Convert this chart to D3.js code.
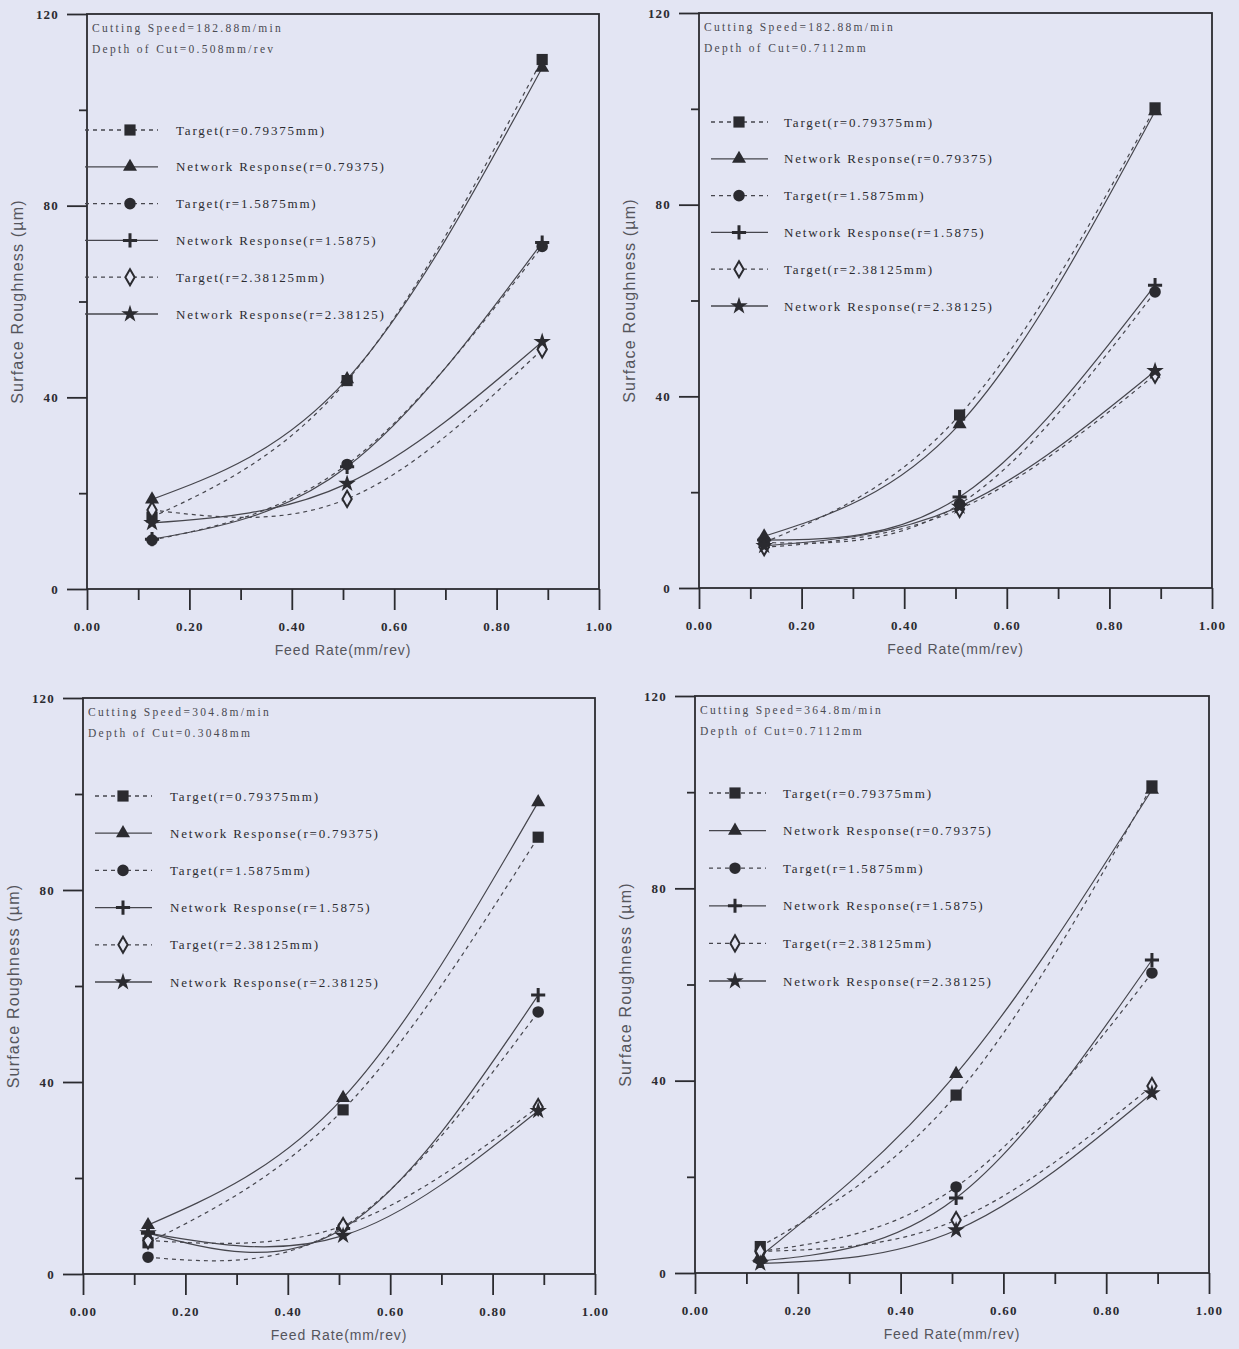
<!DOCTYPE html>
<html>
<head>
<meta charset="utf-8">
<script src="https://cdn.jsdelivr.net/npm/d3@7"></script>
<style>
  html, body { margin: 0; padding: 0; background: #e3e5f3; }
  svg { display: block; }
</style>
</head>
<body>
<svg id="chart" width="1239" height="1349"></svg>
<script>
// ---------------- DATA ----------------
const feedRates = [0.127, 0.508, 0.889];
const seriesNames = [
  "Target(r=0.79375mm)",
  "Network Response(r=0.79375)",
  "Target(r=1.5875mm)",
  "Network Response(r=1.5875)",
  "Target(r=2.38125mm)",
  "Network Response(r=2.38125)"
];
const seriesKinds = ["target", "network", "target", "network", "target", "network"];
const seriesSymbols = ["square", "triangle", "circle", "plus", "diamond", "star"];

const panel1Values = [
  [15.0, 43.5, 110.5],
  [18.7, 43.8, 108.8],
  [10.2, 26.0, 71.5],
  [10.4, 25.5, 72.3],
  [16.5, 18.8, 50.0],
  [13.8, 22.0, 51.6]
];
const panel2Values = [
  [9.5, 36.1, 100.2],
  [10.8, 34.2, 99.5],
  [9.5, 17.5, 61.8],
  [10.0, 19.0, 63.2],
  [8.5, 16.5, 44.5],
  [8.8, 17.0, 45.3]
];
const panel3Values = [
  [6.5, 34.2, 91.0],
  [10.2, 36.7, 98.3],
  [3.5, 9.8, 54.6],
  [8.5, 9.5, 58.1],
  [7.0, 10.0, 34.8],
  [8.5, 8.0, 34.0]
];
const panel4Values = [
  [5.5, 37.0, 101.3],
  [3.5, 41.4, 100.5],
  [4.5, 17.9, 62.4],
  [2.5, 15.6, 65.1],
  [4.5, 11.0, 38.9],
  [2.0, 8.9, 37.4]
];
const cuttingSpeeds = ["Cutting Speed=182.88m/min", "Cutting Speed=182.88m/min", "Cutting Speed=304.8m/min", "Cutting Speed=364.8m/min"];
const depthsOfCut = ["Depth of Cut=0.508mm/rev", "Depth of Cut=0.7112mm", "Depth of Cut=0.3048mm", "Depth of Cut=0.7112mm"];
const xMajorTicks = [0, 0.2, 0.4, 0.6, 0.8, 1.0];
const xMinorTicks = [0.1, 0.3, 0.5, 0.7, 0.9];
const yMajorTicks = [0, 40, 80, 120];
const yMinorTicks = [20, 60, 100];
const xTitle = "Feed Rate(mm/rev)";
const yTitle = "Surface Roughness (\u00b5m)";

const panelValues = [panel1Values, panel2Values, panel3Values, panel4Values];

// ---------------- LAYOUT ----------------
const layout = [
  { x0: 87,  x1: 599,  yT: 14,  yB: 589,  legA: -2, legB: 71, legM: 43, legT: 89, legY: 116, legStep: 36.8 },
  { x0: 699, x1: 1212, yT: 13,  yB: 588,  legA: 12, legB: 69, legM: 40, legT: 85, legY: 109, legStep: 36.8 },
  { x0: 83,  x1: 595,  yT: 698, yB: 1274, legA: 12, legB: 69, legM: 40, legT: 87, legY: 98,  legStep: 37.2 },
  { x0: 695, x1: 1209, yT: 696, yB: 1273, legA: 14, legB: 71, legM: 40, legT: 88, legY: 97,  legStep: 37.6 }
];

const BG = "#e3e5f3";
const INK = "#2b2b30";
const LINE = "#46464d";

const plusSymbol = {
  draw(ctx, size) {
    const r = Math.sqrt(size) / 2;
    ctx.moveTo(-r, 0); ctx.lineTo(r, 0);
    ctx.moveTo(0, -r); ctx.lineTo(0, r);
  }
};
const symbolDefs = {
  square:   { type: d3.symbolSquare,   size: 125, fill: INK, stroke: "none" },
  triangle: { type: d3.symbolTriangle, size: 85,  fill: INK, stroke: "none" },
  circle:   { type: d3.symbolCircle,   size: 105, fill: INK, stroke: "none" },
  plus:     { type: plusSymbol,        size: 200, fill: "none", stroke: INK, sw: 3 },
  diamond:  { type: d3.symbolDiamond,  size: 75,  fill: BG, stroke: INK, sw: 2 },
  star:     { type: d3.symbolStar,     size: 95,  fill: INK, stroke: "none" }
};

const svg = d3.select("#chart");
svg.append("rect").attr("width", 1239).attr("height", 1349).attr("fill", BG);

function drawMarker(g, name, x, y) {
  const def = symbolDefs[name];
  g.append("path")
    .attr("d", d3.symbol().type(def.type).size(def.size)())
    .attr("transform", `translate(${x},${y})`)
    .attr("fill", def.fill)
    .attr("stroke", def.stroke)
    .attr("stroke-width", def.sw || 0);
}

panelValues.forEach((vals, pi) => {
  const L = layout[pi];
  const g = svg.append("g");
  const x = d3.scaleLinear().domain([0, 1]).range([L.x0, L.x1]);
  const y = d3.scaleLinear().domain([0, 120]).range([L.yB, L.yT]);

  // Axes: minor ticks
  const yMinor = g.append("g").attr("transform", `translate(${L.x0},0)`)
    .call(d3.axisLeft(y).tickValues(yMinorTicks).tickSize(8).tickSizeOuter(0).tickFormat(""));
  const xMinor = g.append("g").attr("transform", `translate(0,${L.yB})`)
    .call(d3.axisBottom(x).tickValues(xMinorTicks).tickSize(11).tickSizeOuter(0).tickFormat(""));
  // Major ticks
  const yMajor = g.append("g").attr("transform", `translate(${L.x0},0)`)
    .call(d3.axisLeft(y).tickValues(yMajorTicks).tickSize(20).tickSizeOuter(0).tickPadding(8).tickFormat(d3.format("d")));
  const xMajor = g.append("g").attr("transform", `translate(0,${L.yB})`)
    .call(d3.axisBottom(x).tickValues(xMajorTicks).tickSize(21).tickSizeOuter(0).tickPadding(12).tickFormat(d3.format(".2f")));

  [yMinor, xMinor, yMajor, xMajor].forEach(a => {
    a.select(".domain").remove();
    a.selectAll(".tick line").attr("stroke", INK).attr("stroke-width", 1.8);
    a.selectAll(".tick text")
      .attr("fill", INK)
      .attr("font-family", "'Liberation Serif', 'DejaVu Serif', serif")
      .attr("font-weight", "bold")
      .attr("font-size", 13)
      .attr("letter-spacing", "1.2px");
  });

  // Frame
  g.append("rect")
    .attr("x", L.x0).attr("y", L.yT)
    .attr("width", L.x1 - L.x0).attr("height", L.yB - L.yT)
    .attr("fill", "none").attr("stroke", INK).attr("stroke-width", 1.8);

  // Annotations
  const ann = g.append("g")
    .attr("font-family", "'Liberation Serif', 'DejaVu Serif', serif")
    .attr("font-size", 11.5)
    .attr("fill", "#4a4a52")
    .attr("letter-spacing", "2.3px");
  ann.append("text").attr("x", L.x0 + 5).attr("y", L.yT + 18).text(cuttingSpeeds[pi]);
  ann.append("text").attr("x", L.x0 + 5).attr("y", L.yT + 39).text(depthsOfCut[pi]);

  // Curves
  const line = d3.line()
    .x((d, i) => x(feedRates[i]))
    .y(d => y(d))
    .curve(d3.curveNatural);
  vals.forEach((s, si) => {
    g.append("path")
      .attr("d", line(s))
      .attr("fill", "none")
      .attr("stroke", LINE)
      .attr("stroke-width", 1.2)
      .attr("stroke-dasharray", seriesKinds[si] === "target" ? "4,4" : null);
  });
  vals.forEach((s, si) => {
    s.forEach((v, i) => drawMarker(g, seriesSymbols[si], x(feedRates[i]), y(v)));
  });

  // Legend
  const leg = g.append("g");
  seriesNames.forEach((name, si) => {
    const cy = L.yT + L.legY + si * L.legStep;
    leg.append("line")
      .attr("x1", L.x0 + L.legA).attr("x2", L.x0 + L.legB)
      .attr("y1", cy).attr("y2", cy)
      .attr("stroke", LINE).attr("stroke-width", 1.3)
      .attr("stroke-dasharray", seriesKinds[si] === "target" ? "4,4" : null);
    drawMarker(leg, seriesSymbols[si], L.x0 + L.legM, cy);
    leg.append("text")
      .attr("x", L.x0 + L.legT).attr("y", cy + 4.5)
      .attr("font-family", "'Liberation Serif', 'DejaVu Serif', serif")
      .attr("font-size", 13)
      .attr("letter-spacing", "1.8px")
      .attr("fill", INK)
      .text(name);
  });

  // Axis titles
  g.append("text")
    .attr("x", (L.x0 + L.x1) / 2).attr("y", L.yB + 66)
    .attr("text-anchor", "middle")
    .attr("font-family", "'Liberation Sans', Arial, sans-serif")
    .attr("font-size", 14)
    .attr("letter-spacing", "0.9px")
    .attr("fill", "#55555c")
    .text(xTitle);
  g.append("text")
    .attr("transform", `translate(${L.x0 - 64},${(L.yT + L.yB) / 2}) rotate(-90)`)
    .attr("text-anchor", "middle")
    .attr("font-family", "'Liberation Sans', Arial, sans-serif")
    .attr("font-size", 16)
    .attr("letter-spacing", "1.2px")
    .attr("fill", "#55555c")
    .text(yTitle);
});
</script>
</body>
</html>
